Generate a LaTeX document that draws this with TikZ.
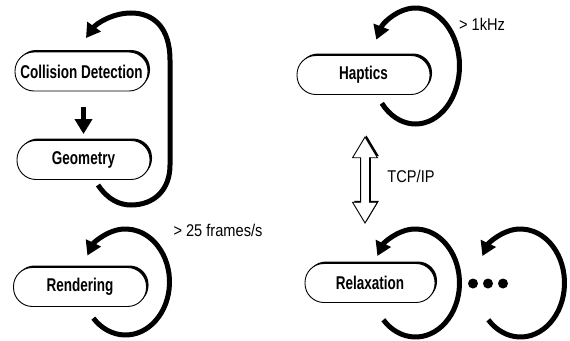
\documentclass[tikz,border=0pt]{standalone}
\usepackage{fontspec}
\setmainfont{Liberation Sans}
\usetikzlibrary{shapes.arrows,shadows,arrows.meta,calc}
\newcommand\sqb[1]{\scalebox{0.73}[1]{\bfseries #1}}
\newcommand\sqr[1]{\scalebox{0.86}[1]{#1}}
\begin{document}
\begin{tikzpicture}[x=1pt,y=-1pt,
  pill/.style={draw, line width=0.9pt, fill=white, rounded corners=19pt,
    minimum width=133pt, minimum height=39pt, inner sep=0pt,
    general shadow={fill=black, shadow xshift=2pt, shadow yshift=2pt},
    font=\fontsize{18.5}{20}\selectfont},
  lab/.style={inner sep=0pt, font=\fontsize{17}{19}\selectfont},
  arcloop/.style={line width=5pt, -{Triangle[length=14pt,width=16pt]}},
  dot/.style={circle, fill=black, minimum size=10pt, inner sep=0pt}]
\useasboundingbox (0,0) rectangle (570,340);

% boxes
\node[pill] (cd)  at (81.5,71.5) {\sqb{Collision Detection}};
\node[pill] (geo) at (83.5,160)  {\sqb{Geometry}};
\node[pill] (ren) at (80,287)    {\sqb{Rendering}};
\node[pill] (hap) at (363.5,75)  {\sqb{Haptics}};
\node[pill, minimum width=130pt] (rel) at (370,283) {\sqb{Relaxation}};

% arrow collision -> geometry
\draw[line width=5pt, -{Triangle[length=15pt,width=17pt]}, shorten <=16pt, shorten >=6pt]
  (geo.north |- cd.south) -- (geo.north);

% big loop around collision detection / geometry
\draw[arcloop] (98,185) .. controls (108,200) and (120,205) .. (131,205)
  .. controls (154,205) and (170,190) .. (170,165) -- (170,60)
  .. controls (170,28) and (154,13) .. (131,13)
  .. controls (112,13) and (96,24) .. (86,38);

% rendering loop
\draw[arcloop] (125.5,282) ++(137:44 and 53) arc[start angle=137, end angle=-150, x radius=44, y radius=53];
% haptics loop
\draw[arcloop] (415.5,66) ++(140:44 and 58) arc[start angle=140, end angle=-153, x radius=44, y radius=58];
% relaxation loops
\draw[arcloop] (415.5,283) ++(137:44 and 54) arc[start angle=137, end angle=-150, x radius=44, y radius=54];
\draw[arcloop] (520.5,283) ++(137:44 and 54) arc[start angle=137, end angle=-150, x radius=44, y radius=54];

% dots
\node[dot] (d1) at (473,283.5) {};
\node[dot] (d2) at (488,283.5) {};
\node[dot] (d3) at (503,283.5) {};

% TCP/IP double arrow
\node[double arrow, draw, fill=white, line width=0.9pt, rotate=90,
  minimum height=86pt, inner sep=4pt, double arrow head extend=8pt,
  double arrow tip angle=62,
  general shadow={fill=black, shadow xshift=1.5pt, shadow yshift=1.5pt}]
  (tcp) at (365,180) {};

% labels
\node[lab] (fps) at (218,230) {\sqr{> 25 frames/s}};
\node[lab] (khz) at (482,24)  {\sqr{> 1kHz}};
\node[lab] (tcpl) at (411,176) {\sqr{TCP/IP}};
\end{tikzpicture}
\end{document}
